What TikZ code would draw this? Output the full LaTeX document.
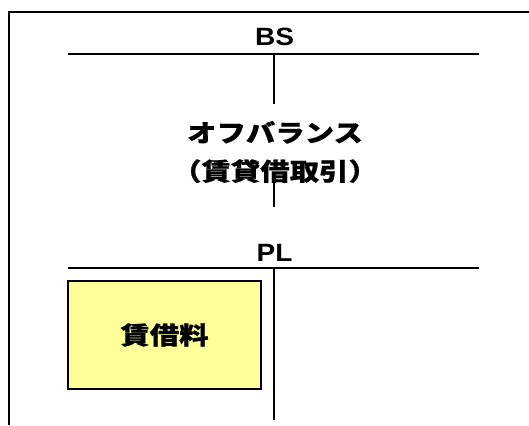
\documentclass[tikz,border=0pt]{standalone}
\usepackage{fontspec}
\setmainfont{Liberation Sans}[FakeStretch=1.12]
\newfontfamily\jp{Noto Sans CJK JP}[FakeStretch=1.2, BoldFeatures={FakeBold=0.6}]
\definecolor{boxyellow}{HTML}{FFFF99}
\begin{document}
\begin{tikzpicture}[x=1pt,y=-1pt,
  rule/.style={line width=2pt, black},
  lbl/.style={inner sep=0pt, font=\fontsize{25}{28}\selectfont\bfseries},
  jptext/.style={inner sep=0pt, align=center, font=\jp\bfseries\fontsize{24.5}{38.5}\selectfont},
  itembox/.style={draw=black, line width=2pt, fill=boxyellow, minimum width=193pt, minimum height=108pt, inner sep=0pt}]
\useasboundingbox (0,0) rectangle (529,425);
% outer frame
\coordinate (ftl) at (9,12);
\coordinate (fbl) at (9,425);
\coordinate (ftr) at (529,12);
\draw[rule] (fbl) -- (ftl) -- (ftr);
% BS
\node[lbl] (bs) at (274.5,37) {BS};
\coordinate (bsl) at (68,54);
\coordinate (bsr) at (479,54);
\coordinate (bsm) at (274,54);
\draw[rule] (bsl) -- (bsr);
\node[jptext] (ob) at (275,152) {オフバランス\\（賃貸借取引）};
\coordinate (v1a) at (274,104);
\coordinate (v1b) at (274,176);
\coordinate (v1c) at (274,207);
\draw[rule] (bsm) -- (v1a);
\draw[rule] (v1b) -- (v1c);
% PL
\node[lbl] (pl) at (274.5,253) {PL};
\coordinate (pll) at (68,268);
\coordinate (plr) at (479,268);
\coordinate (plm) at (274,268);
\coordinate (plb) at (274,420);
\draw[rule] (pll) -- (plr);
\draw[rule] (plm) -- (plb);
\node[itembox] (rent) at (164.5,335) {};
\node[jptext] at (rent.center) {賃借料};
\end{tikzpicture}
\end{document}
